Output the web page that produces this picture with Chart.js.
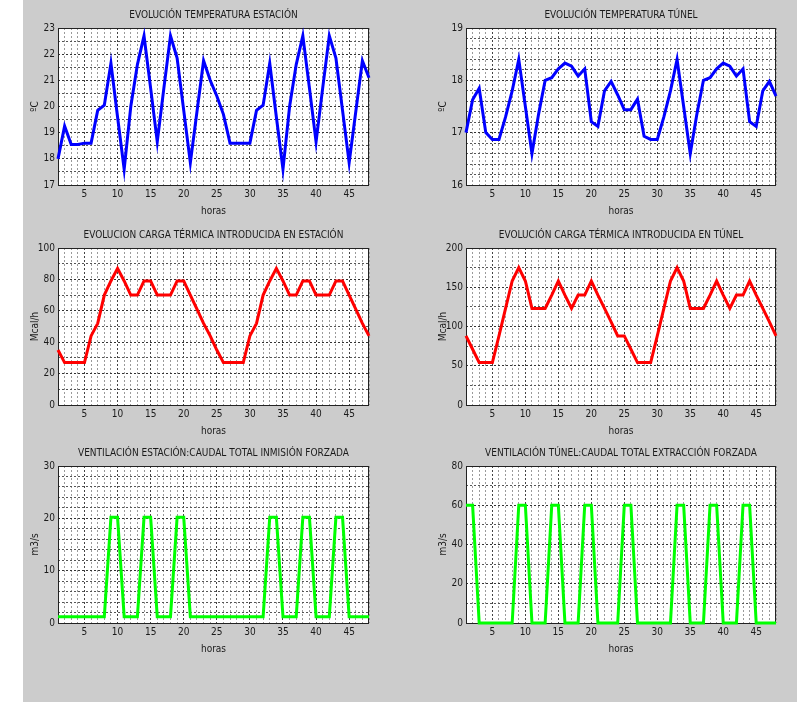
<!DOCTYPE html>
<html lang="es">
<head>
<meta charset="UTF-8">
<title>Evolución estación y túnel</title>
<script src="https://cdn.jsdelivr.net/npm/chart.js@4/dist/chart.umd.min.js"></script>
<style>
    * { margin: 0; padding: 0; box-sizing: border-box; }
    body { width: 800px; height: 702px; background: #fff; position: relative; overflow: hidden; }
    .figure { position: absolute; left: 23px; top: 0; width: 774px; height: 702px; background: #cccccc; }
    canvas { position: absolute; }
</style>
</head>
<body>
<div class="figure"></div>
<canvas id="c1" width="360" height="220" style="left:23px;top:0px"></canvas>
<canvas id="c2" width="360" height="220" style="left:431px;top:0px"></canvas>
<canvas id="c3" width="360" height="220" style="left:23px;top:220px"></canvas>
<canvas id="c4" width="360" height="220" style="left:431px;top:220px"></canvas>
<canvas id="c5" width="360" height="220" style="left:23px;top:438px"></canvas>
<canvas id="c6" width="360" height="220" style="left:431px;top:438px"></canvas>

<script>
// horas 1..48
const horas = [1, 2, 3, 4, 5, 6, 7, 8, 9, 10, 11, 12, 13, 14, 15, 16, 17, 18, 19, 20, 21, 22, 23, 24,
               25, 26, 27, 28, 29, 30, 31, 32, 33, 34, 35, 36, 37, 38, 39, 40, 41, 42, 43, 44, 45, 46, 47, 48];

// temperatura (ºC)
const tempEstacion = [18.0, 19.25, 18.55, 18.55, 18.6, 18.6, 19.85, 20.05, 21.65, 19.6, 17.6, 20.0,
                      21.6, 22.7, 20.7, 18.65, 20.7, 22.7, 21.85, 19.85, 17.85, 19.8, 21.75, 21.0,
                      20.4, 19.7, 18.6, 18.6, 18.6, 18.6, 19.85, 20.05, 21.65, 19.6, 17.6, 20.0,
                      21.6, 22.7, 20.7, 18.65, 20.7, 22.7, 21.85, 19.85, 17.85, 19.8, 21.75, 21.1];
const tempTunel = [17.0, 17.63, 17.85, 17.0, 16.87, 16.87, 17.3, 17.8, 18.4, 17.5, 16.6, 17.35,
                   18.0, 18.05, 18.22, 18.33, 18.27, 18.08, 18.22, 17.21, 17.12, 17.8, 17.98, 17.72,
                   17.44, 17.44, 17.64, 16.93, 16.87, 16.87, 17.3, 17.8, 18.4, 17.5, 16.6, 17.35,
                   18.0, 18.05, 18.22, 18.33, 18.27, 18.08, 18.22, 17.21, 17.12, 17.8, 17.98, 17.7];

// carga térmica (Mcal/h)
const cargaEstacion = [35, 27, 27, 27, 27, 44, 52, 70, 79, 87, 79, 70, 70, 79, 79, 70, 70, 70, 79, 79, 70, 61, 52, 44,
                       35, 27, 27, 27, 27, 44, 52, 70, 79, 87, 79, 70, 70, 79, 79, 70, 70, 70, 79, 79, 70, 61, 52, 44];
const cargaTunel = [88, 71, 54, 54, 54, 88, 123, 158, 175, 158, 123, 123, 123, 140, 158, 140, 123, 140, 140, 158, 140, 123, 106, 88,
                    88, 71, 54, 54, 54, 88, 123, 158, 175, 158, 123, 123, 123, 140, 158, 140, 123, 140, 140, 158, 140, 123, 106, 88];

// ventilación (m3/s)
const ventEstacion = [1.2, 1.2, 1.2, 1.2, 1.2, 1.2, 1.2, 1.2, 20.2, 20.2, 1.2, 1.2, 1.2, 20.2, 20.2, 1.2, 1.2, 1.2, 20.2, 20.2, 1.2, 1.2, 1.2, 1.2,
                      1.2, 1.2, 1.2, 1.2, 1.2, 1.2, 1.2, 1.2, 20.2, 20.2, 1.2, 1.2, 1.2, 20.2, 20.2, 1.2, 1.2, 1.2, 20.2, 20.2, 1.2, 1.2, 1.2, 1.2];
const ventTunel = [60, 60, 0, 0, 0, 0, 0, 0, 60, 60, 0, 0, 0, 60, 60, 0, 0, 0, 60, 60, 0, 0, 0, 0,
                   60, 60, 0, 0, 0, 0, 0, 0, 60, 60, 0, 0, 0, 60, 60, 0, 0, 0, 60, 60, 0, 0, 0, 0];

const FONT = "'Liberation Sans Narrow', 'DejaVu Sans Condensed', 'Liberation Sans', Arial, sans-serif";
const TXT = '#1a1a1a';

// white axes box + black frame, like matlab
const framePlugin = {
    id: 'frame',
    beforeDraw(chart) {
        const a = chart.chartArea, ctx = chart.ctx;
        ctx.save();
        ctx.fillStyle = '#fff';
        ctx.fillRect(a.left, a.top, a.right - a.left, a.bottom - a.top);
        ctx.restore();
    },
    beforeDatasetsDraw(chart) {
        const a = chart.chartArea, ctx = chart.ctx;
        ctx.save();
        ctx.strokeStyle = '#222';
        ctx.lineWidth = 1;
        ctx.strokeRect(a.left + 0.5, a.top + 0.5, a.right - a.left - 1, a.bottom - a.top);
        ctx.restore();
    }
};

function isMajor(v, step) {
    return Math.abs(v / step - Math.round(v / step)) < 1e-6;
}

function makeChart(id, title, yTitle, values, color, yMin, yMax, yMajor, yMinor, rightPad) {
    new Chart(document.getElementById(id), {
        type: 'line',
        data: {
            labels: horas,
            datasets: [{
                data: horas.map((h, i) => ({ x: h, y: values[i] })),
                borderColor: color,
                borderWidth: 3,
                pointRadius: 0,
                tension: 0,
                fill: false,
                clip: false
            }]
        },
        plugins: [framePlugin],
        options: {
            responsive: false,
            animation: false,
            devicePixelRatio: 1,
            layout: { padding: { left: 0, right: rightPad, top: 0, bottom: 0 } },
            plugins: {
                legend: { display: false },
                tooltip: { enabled: false },
                title: {
                    display: true,
                    text: title,
                    fullSize: false,
                    color: TXT,
                    font: { family: FONT, size: 10, weight: 'normal', lineHeight: '13px' },
                    padding: { top: 9, bottom: 6 }
                }
            },
            scales: {
                x: {
                    type: 'linear',
                    min: 1,
                    max: 48,
                    afterFit: s => { s.height = 35; },
                    ticks: {
                        stepSize: 1,
                        autoSkip: false,
                        maxRotation: 0,
                        padding: 3,
                        color: TXT,
                        font: { family: FONT, size: 10 },
                        callback: v => (v % 5 === 0 ? String(v) : '')
                    },
                    grid: {
                        drawTicks: false,
                        color: c => (c.tick && c.tick.value % 5 === 0 ? '#444' : '#9a9a9a')
                    },
                    border: { display: false, dash: [2, 2] },
                    title: {
                        display: true,
                        text: 'horas',
                        color: TXT,
                        font: { family: FONT, size: 10 },
                        padding: { top: 0, bottom: 3 }
                    }
                },
                y: {
                    min: yMin,
                    max: yMax,
                    afterFit: s => { s.width = 35; },
                    ticks: {
                        stepSize: yMinor,
                        autoSkip: false,
                        padding: 3,
                        color: TXT,
                        font: { family: FONT, size: 10 },
                        callback: v => (isMajor(v, yMajor) ? String(Math.round(v)) : '')
                    },
                    grid: {
                        drawTicks: false,
                        color: c => (c.tick && isMajor(c.tick.value, yMajor) ? '#333' : '#555')
                    },
                    border: { display: false, dash: [2, 2] },
                    title: {
                        display: true,
                        text: yTitle,
                        color: TXT,
                        font: { family: FONT, size: 10 },
                        padding: { top: 6, bottom: 0 }
                    }
                }
            }
        }
    });
}

makeChart('c1', 'EVOLUCIÓN TEMPERATURA ESTACIÓN', 'ºC', tempEstacion, '#0000ff', 17, 23, 1, 0.5, 14);
makeChart('c2', 'EVOLUCIÓN TEMPERATURA TÚNEL', 'ºC', tempTunel, '#0000ff', 16, 19, 1, 0.2, 15);
makeChart('c3', 'EVOLUCION CARGA TÉRMICA INTRODUCIDA EN ESTACIÓN', 'Mcal/h', cargaEstacion, '#ff0000', 0, 100, 20, 10, 14);
makeChart('c4', 'EVOLUCIÓN CARGA TÉRMICA INTRODUCIDA EN TÚNEL', 'Mcal/h', cargaTunel, '#ff0000', 0, 200, 50, 25, 15);
makeChart('c5', 'VENTILACIÓN ESTACIÓN:CAUDAL TOTAL INMISIÓN FORZADA', 'm3/s', ventEstacion, '#00ff00', 0, 30, 10, 2, 14);
makeChart('c6', 'VENTILACIÓN TÚNEL:CAUDAL TOTAL EXTRACCIÓN FORZADA', 'm3/s', ventTunel, '#00ff00', 0, 80, 20, 10, 15);
</script>
</body>
</html>
